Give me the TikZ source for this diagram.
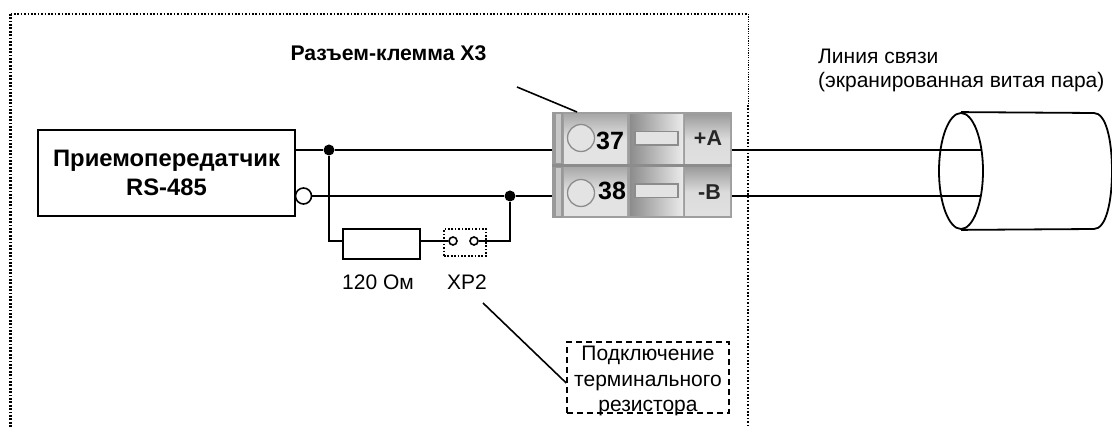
\documentclass[tikz,border=0pt]{standalone}
\usepackage{fontspec}
\setmainfont{Liberation Sans}
\usetikzlibrary{shapes.geometric,calc}
\tikzset{
  wire/.style={line width=2pt,black},
  lead/.style={line width=1.6pt,black},
  dot/.style={circle,fill=black,inner sep=0pt,minimum size=11pt},
  hole/.style={circle,draw=black,fill=white,line width=1.6pt,inner sep=0pt},
  txt/.style={font=\fontsize{21}{25}\selectfont,align=center,inner sep=0pt},
  btxt/.style={font=\fontsize{23.8}{28.5}\selectfont\bfseries,align=center,inner sep=0pt},
  frame/.style={draw=black,line width=2.2pt,dash pattern=on 1.7pt off 1.7pt},
  termnum/.style={font=\fontsize{25}{25}\selectfont\bfseries,inner sep=0pt},
  termlab/.style={font=\fontsize{21.5}{21}\selectfont\bfseries,inner sep=0pt,text=black!85},
  slot/.style={draw=black!45,fill=black!11,line width=1.3pt},
  screw/.style={circle,draw=black!45,fill=black!11,line width=1.3pt,minimum size=27pt,inner sep=0pt},
}
\definecolor{tg}{gray}{0.62}
\begin{document}
\begin{tikzpicture}[x=1pt,y=-1pt]
\useasboundingbox (0,0) rectangle (1112,427);
% outer dotted frame
\draw[frame] (10.5,427) -- (10.5,14);
\draw[frame,line width=1.4pt] (10.5,14) -- (748,14);
\draw[black,line width=0.9pt,dash pattern=on 1.2pt off 1.2pt] (748,14) -- (748,105);
\draw[frame] (748,105) -- (748,427);
% transceiver
\node[draw=black,line width=1.9pt,minimum width=257pt,minimum height=86pt,inner sep=0pt,btxt] (xcvr) at (166.5,173) {Приемопередатчик\\RS-485};
\node[hole,minimum size=16pt] (bub) at (303.5,196) {};
\node[dot] (j1) at (329,150) {};
\node[dot] (j2) at (510,196) {};
% terminal block
\node[minimum width=180pt,minimum height=105pt,inner sep=0pt] (term) at (642,165) {};
\fill[tg] (552,112) rectangle (732,218);
\fill[black!40] (552,112) rectangle (563,218);
\fill[black!22] (556,114) rectangle (561,163);
\fill[black!22] (556,168) rectangle (561,216);
\foreach \ya/\yb in {115/164,168/216}{
  \shade[top color=black!33,bottom color=black!11,middle color=black!11] (564,\ya) rectangle (627,\yb);
  \shade[left color=black!45,right color=black!8] (630,\ya) rectangle (683,\yb);
  \shade[top color=black!38,bottom color=black!12,middle color=black!14] (685,\ya) rectangle (730,\yb);
}
\fill[black!45] (552,164.5) rectangle (732,167.5);
\node[screw] (s1) at (581,138) {};
\node[screw] (s2) at (581,193) {};
\draw[slot] (635,131.5) rectangle (678,145);
\draw[slot] (635,184) rectangle (678,197.5);
\node[termnum] (n37) at (610,141) {37};
\node[termnum] (n38) at (612,191) {38};
\node[termlab] (la) at (708,138) {+A};
\node[termlab] (lb) at (709.5,192) {-B};
% resistor and jumper
\node[draw=black,line width=2pt,minimum width=77pt,minimum height=30pt,inner sep=0pt] (res) at (381.5,244) {};
\node[frame,minimum width=42pt,minimum height=27pt,inner sep=0pt] (xp) at (465,242.5) {};
\node[hole,minimum size=8pt] (p1) at (453,241) {};
\node[hole,minimum size=8pt] (p2) at (474,241) {};
\coordinate (c1) at (329,241);
\coordinate (c2) at (510,241);
% wires
\draw[wire,line width=1.6pt] (xcvr.east |- j1) -- (j1);
\draw[wire] (j1) -- (j1 -| term.west);
\draw[wire] (bub.east) -- (j2) -- (j2 -| term.west);
\draw[wire] (j1) -- (c1) -- (c1 -| res.west);
\draw[wire] (c1 -| res.east) -- (p1.west);
\draw[wire] (p2.east) -- (c2) -- (j2);
% cable
\node[draw=black,ellipse,line width=1.8pt,minimum width=44pt,minimum height=116pt,inner sep=0pt] (cab) at (961,171) {};
\coordinate (ca) at (981,150);
\coordinate (cb) at (980,196);
\draw[wire] (term.east |- j1) -- (ca);
\draw[wire] (term.east |- j2) -- (cb);
\draw[line width=1.8pt] (cab.north) -- (1094,113) .. controls (1106,113) and (1112,140) .. (1112,171) .. controls (1112,202) and (1106,229) .. (1094,229) -- (cab.south);
% callouts
\node[txt,font=\fontsize{21.2}{25}\selectfont\bfseries,anchor=base] (x3) at (388.5,61) {Разъем-клемма Х3};
\coordinate (x3a) at (517,87);
\draw[lead] (x3a) -- (577,112);
\node[txt,anchor=base] (r120) at (378,290) {120 Ом};
\node[txt,anchor=base] (xp2) at (467,290) {ХР2};
\node[txt,anchor=base west] (line1) at (818,64) {Линия связи};
\node[txt,anchor=base west] (line2) at (818,88) {(экранированная витая пара)};
\node[draw=black,line width=1.5pt,dash pattern=on 6pt off 4pt,minimum width=162pt,minimum height=71pt,inner sep=0pt] (note) at (648,377.5) {};
\node[txt,font=\fontsize{21}{25.5}\selectfont] (notetext) at (648,381) {Подключение\\терминального\\резистора};
\coordinate (xpa) at (483,303);
\draw[lead] (xpa) -- (note.west |- 0,383);
\end{tikzpicture}
\end{document}
